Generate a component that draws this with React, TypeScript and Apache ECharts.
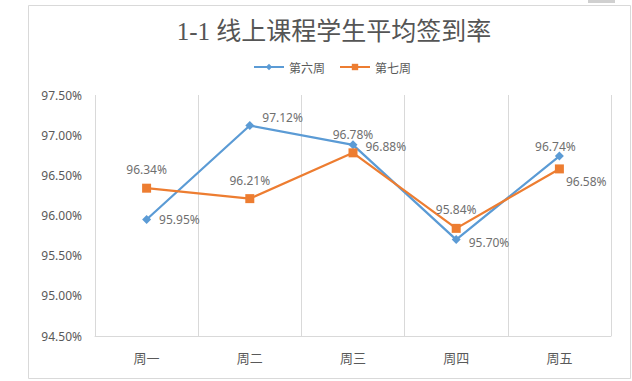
import React, { useEffect, useRef } from "react";
import * as echarts from "echarts";

const categories = ["周一", "周二", "周三", "周四", "周五"];
const week6 = [95.95, 97.12, 96.88, 95.7, 96.74];
const week7 = [96.34, 96.21, 96.78, 95.84, 96.58];
const seriesNames = ["第六周", "第七周"];
const titleText = "1-1 线上课程学生平均签到率";

const week6LabelPos = ["right", "right", "right", "right", "top"];
const week6LabelOffset = [[0, 0], [0, -8], [0, 2], [0, 3], [-4, 9]];
const week7LabelPos = ["top", "top", "top", "top", "right"];
const week7LabelOffset = [[0, 0], [0, 0], [0, 0], [0, 0], [-6, 13]];

const labelColor = "#6f6f6f";

export default function App() {
  const ref = useRef<HTMLDivElement>(null);
  useEffect(() => {
    const chart = echarts.init(ref.current!, undefined, { renderer: "svg" });
    const mk = (vals: number[], pos: string[], off: number[][]) =>
      vals.map((v, i) => ({
        value: v,
        label: { position: pos[i], offset: off[i] },
      }));
    chart.setOption({
      animation: false,
      backgroundColor: "#ffffff",
      title: {
        text: titleText,
        left: 329,
        textAlign: "center",
        top: 14,
        textStyle: {
          fontSize: 25,
          fontWeight: "normal",
          color: "#555555",
          fontFamily: "'Liberation Serif', 'Noto Sans CJK SC', serif",
        },
      },
      legend: {
        data: seriesNames,
        top: 56,
        left: 248,
        itemWidth: 30,
        itemHeight: 8,
        itemGap: 14,
        textStyle: { color: "#595959", fontSize: 12, fontFamily: "'Noto Sans CJK SC', sans-serif" },
      },
      graphic: [
        {
          type: "rect",
          shape: { x: 28.5, y: 5.5, width: 602, height: 373 },
          style: { fill: "none", stroke: "#d9d9d9", lineWidth: 1 },
          silent: true,
        },
        {
          type: "rect",
          shape: { x: 588, y: 0, width: 27, height: 3 },
          style: { fill: "#d0d0d0" },
          silent: true,
        },
      ],
      grid: { left: 95, right: 21, top: 95, bottom: 45, containLabel: false },
      xAxis: {
        type: "category",
        data: categories,
        boundaryGap: true,
        axisLine: { show: true, lineStyle: { color: "#d9d9d9" } },
        axisTick: { show: false },
        splitLine: { show: true, lineStyle: { color: "#d9d9d9" } },
        axisLabel: { color: "#595959", fontSize: 13, margin: 15, fontFamily: "'Noto Sans CJK SC', sans-serif" },
      },
      yAxis: {
        type: "value",
        min: 94.5,
        max: 97.5,
        interval: 0.5,
        axisLine: { show: false },
        axisTick: { show: false },
        splitLine: { show: false },
        axisLabel: {
          color: "#595959",
          fontSize: 12,
          margin: 13,
          fontFamily: "'Noto Sans', sans-serif",
          formatter: (v: number) => v.toFixed(2) + "%",
        },
      },
      series: [
        {
          name: seriesNames[0],
          type: "line",
          data: mk(week6, week6LabelPos, week6LabelOffset),
          symbol: "diamond",
          symbolSize: 9,
          itemStyle: { color: "#5B9BD5" },
          lineStyle: { color: "#5B9BD5", width: 2.25 },
          label: {
            show: true,
            color: labelColor,
            fontSize: 12,
            distance: 8,
            fontFamily: "'Noto Sans', sans-serif",
            formatter: (p: any) => p.value.toFixed(2) + "%",
          },
          z: 2,
        },
        {
          name: seriesNames[1],
          type: "line",
          data: mk(week7, week7LabelPos, week7LabelOffset),
          symbol: "rect",
          symbolSize: 9,
          itemStyle: { color: "#ED7D31" },
          lineStyle: { color: "#ED7D31", width: 2.25 },
          label: {
            show: true,
            color: labelColor,
            fontSize: 12,
            distance: 8,
            fontFamily: "'Noto Sans', sans-serif",
            formatter: (p: any) => p.value.toFixed(2) + "%",
          },
          z: 3,
        },
      ],
    });
    return () => chart.dispose();
  }, []);
  return (
    <div
      ref={ref}
      style={{ position: "absolute", left: 0, top: 0, width: 632, height: 381 }}
    />
  );
}
